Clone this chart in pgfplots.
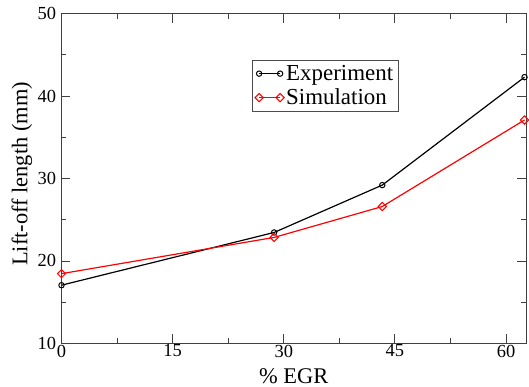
\documentclass[border=0pt]{standalone}
\usepackage{pgfplots}
\pgfplotsset{compat=1.18}
\usepackage{fontspec}
\setmainfont{Liberation Serif}
\begin{document}
\begin{tikzpicture}
\begin{axis}[
  name=ax,
  scale only axis,
  width=464.5bp, height=329.6bp,
  xmin=0, xmax=62.7, ymin=10, ymax=50,
  xtick={0,15,30,45,60}, ytick={10,20,30,40,50},
  minor x tick num=1, minor y tick num=1,
  tick align=inside,
  major tick length=9bp, minor tick length=5bp,
  axis line style={line width=0.8bp, black!75},
  every tick/.style={line width=0.8bp, black!75},
  /pgf/number format/assume math mode=true,
  tick label style={font=\fontsize{18.5}{20}\selectfont},
  xticklabel style={yshift=2bp},
  yticklabel style={xshift=-2bp},
  label style={font=\fontsize{22.5}{24}\selectfont},
  xlabel={\% EGR},
  ylabel={Lift-off length (mm)},
  xlabel style={at={(axis description cs:0.5,0)}, anchor=base, yshift=-39.7bp},
  ylabel style={at={(axis description cs:0,0.5137)}, anchor=center, yshift=39.5bp},
  legend style={at={(0.4095,0.8595)}, anchor=north west, draw=black!70, line width=0.6bp,
    font=\fontsize{23}{24}\selectfont, inner sep=3bp, row sep=3bp,
    cells={anchor=west}},
  legend image code/.code={\draw[#1] plot coordinates {(0bp,0bp) (21bp,0bp)};},
  clip=false,
]
\addplot[black, line width=1.2bp, mark=o, mark size=2.7bp, mark options={line width=1bp}]
  coordinates {(0,17.05) (28.7,23.45) (43.3,29.2) (62.5,42.3)};
\addlegendentry{Experiment}
\addplot[red, line width=1.2bp, mark=square, mark size=2.9bp, mark options={rotate=45, line width=1bp}]
  coordinates {(0,18.45) (28.7,22.85) (43.3,26.6) (62.5,37.1)};
\addlegendentry{Simulation}
\end{axis}
\pgfresetboundingbox
\path[use as bounding box] ([xshift=-61.5bp,yshift=-43.7bp]ax.south west) rectangle ([xshift=3bp,yshift=13.7bp]ax.north east);
\end{tikzpicture}
\end{document}
